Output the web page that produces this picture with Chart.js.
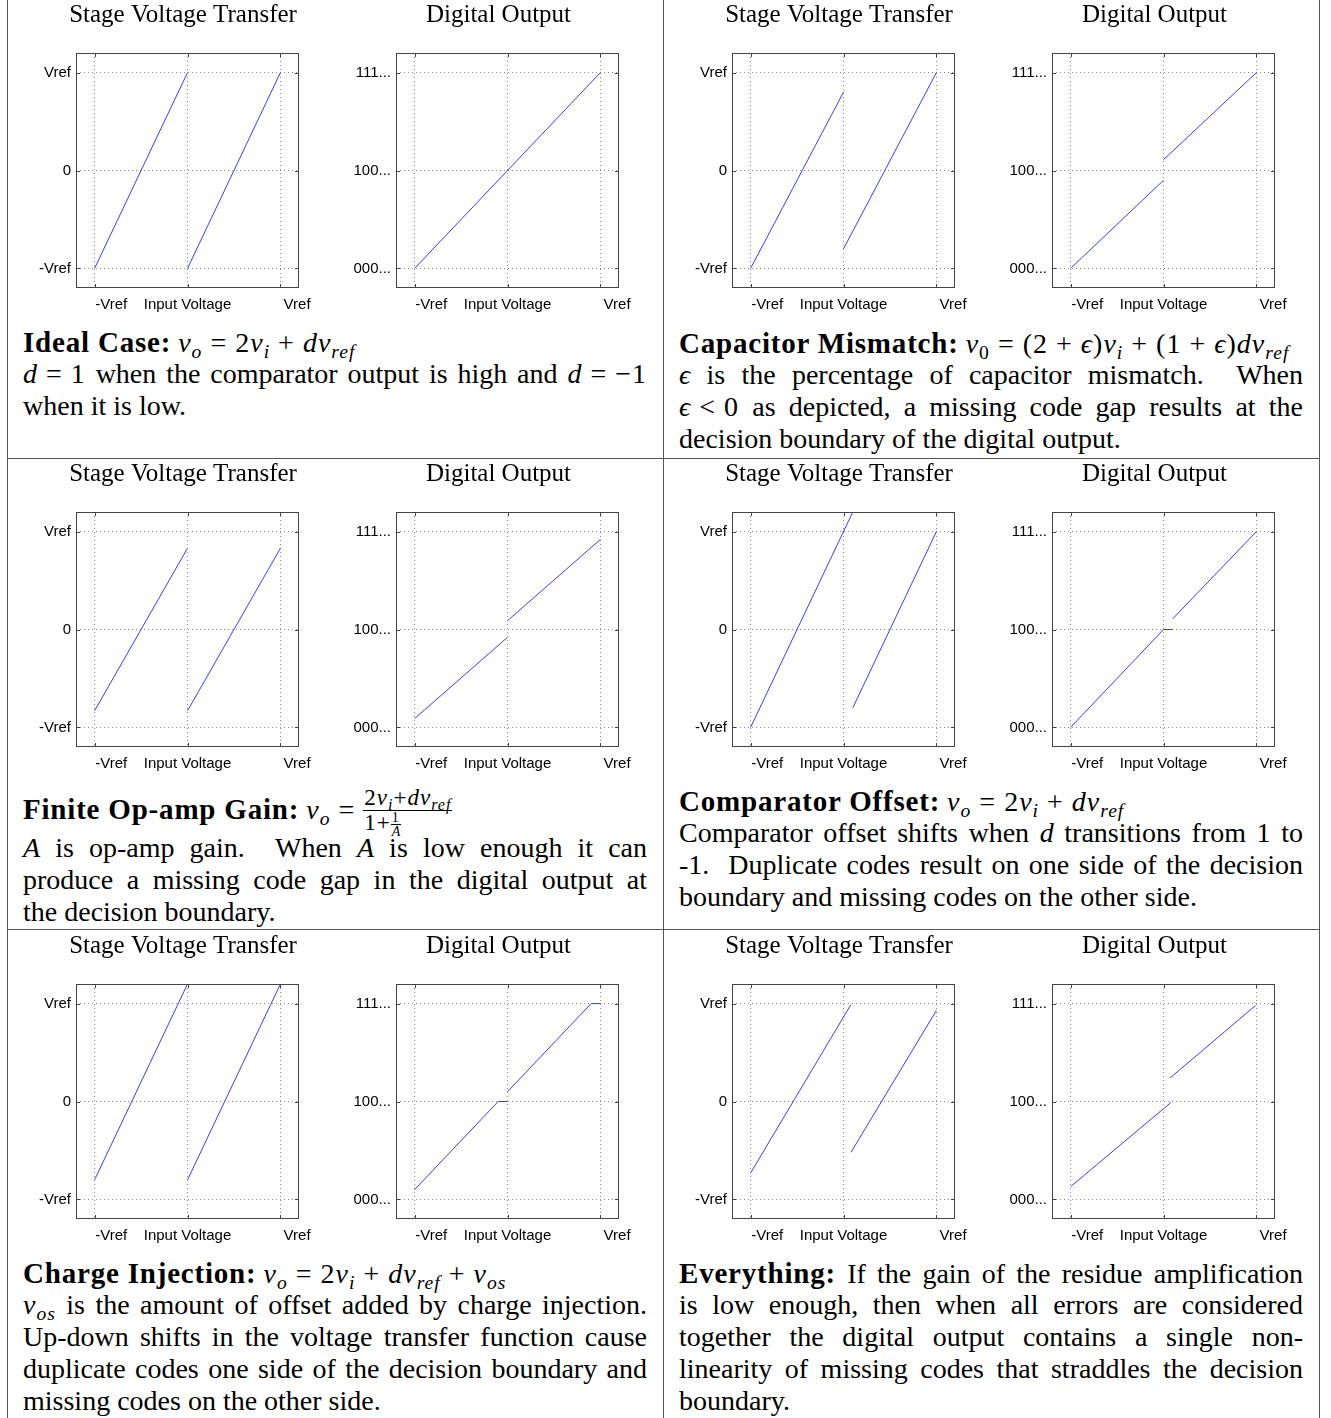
<!DOCTYPE html>
<html>
<head>
<meta charset="utf-8">
<script src="https://cdn.jsdelivr.net/npm/chart.js@4.4.1/dist/chart.umd.min.js"></script>
<style>
  html, body { margin: 0; padding: 0; background: #fff; }
  body { width: 1331px; height: 1418px; position: relative; overflow: hidden; }
  .rule { position: absolute; background: #555; }
  .cell { position: absolute; width: 656px; height: 470px; }
  .cell canvas { position: absolute; top: 0; }
  .txt { position: absolute; left: 16px; top: 0; width: 624px; font-family: "Liberation Serif", "DejaVu Serif", serif; font-size: 28px; color: #000; }
  .ln { position: absolute; left: 0; width: 624px; height: 32px; line-height: 32px; text-align: justify; text-align-last: justify; }
  .ln.end { text-align-last: left; white-space: nowrap; }
  b { font-size: 29px; letter-spacing: 0.8px; }
  .m { letter-spacing: 1px; }
  .op { margin: 0 8px; }
  sub { font-size: 70%; vertical-align: -0.3em; line-height: 0; }
  .frac { display: inline-block; vertical-align: middle; text-align: center; font-size: 23px; line-height: 1.05; }
  .frac > span { display: block; padding: 0 1px; }
  .frac > .num { border-bottom: 1px solid #000; }
  .frac .frac { font-size: 14px; line-height: 0.95; letter-spacing: 0; }
</style>
</head>
<body>
<script>
// tick positions and labels, shared by every plot
var tickValues = [-1, 0, 1];
var pad = '\u00a0\u00a0\u00a0\u00a0\u00a0\u00a0\u00a0\u00a0';
var inputTicks = [pad + '-Vref', 'Input Voltage', pad + 'Vref'];
var stageTicks = ['-Vref', '0', 'Vref'];
var codeTicks = ['000...', '100...', '111...'];
var chartTitles = ['Stage Voltage Transfer', 'Digital Output'];

// null y breaks the line
var idealStageX = [-1, 0, 0, 0, 1];
var idealStageY = [-1, 1, null, -1, 1];
var idealCodeX = [-1, 1];
var idealCodeY = [-1, 1];

var mismatchStageX = [-1, 0, 0, 0, 1];
var mismatchStageY = [-1, 0.8, null, -0.8, 1];
var mismatchCodeX = [-1, 0, 0, 0, 1];
var mismatchCodeY = [-1, -0.1, null, 0.11, 1];

var gainStageX = [-1, 0, 0, 0, 1];
var gainStageY = [-0.83, 0.83, null, -0.83, 0.83];
var gainCodeX = [-1, 0, 0, 0, 1];
var gainCodeY = [-0.91, -0.08, null, 0.09, 0.92];

var offsetStageX = [-1, 0.1, 0.1, 0.1, 1];
var offsetStageY = [-1, 1.2, null, -0.8, 1];
var offsetCodeX = [-1, 0, 0.1, 0.1, 0.1, 1];
var offsetCodeY = [-1, 0, 0, null, 0.11, 1];

var chargeStageX = [-1, 0, 0, 0, 1];
var chargeStageY = [-0.8, 1.2, null, -0.8, 1.2];
var chargeCodeX = [-1, -0.1, 0, 0, 0, 0.9, 1];
var chargeCodeY = [-0.9, 0, 0, null, 0.1, 1, 1];

var allStageX = [-1, 0.08, 0.08, 0.08, 1];
var allStageY = [-0.73, 0.99, null, -0.52, 0.93];
var allCodeX = [-1, 0.08, 0.08, 0.07, 0.99];
var allCodeY = [-0.87, -0.01, null, 0.24, 0.98];

function v(s) { return '<i>v</i><sub><i>' + s + '</i></sub>'; }
function op(s) { return '<span class="op">' + s + '</span>'; }
function m(s) { return '<span class="m">' + s + '</span>'; }
var dvref = '<i>d</i>' + v('ref');
var eps = '<i>\u03f5</i>';

var idealText = [
  { t: '<b>Ideal Case:</b> ' + m(v('o') + op('=') + '2' + v('i') + op('+') + dvref) },
  { t: m('<i>d</i>' + op('=') + '1') + ' when the comparator output is high and ' + m('<i>d</i>' + op('=') + '\u22121'), j: true },
  { t: 'when it is low.' }
];
var mismatchText = [
  { t: '<b>Capacitor Mismatch:</b> ' + m('<i>v</i><sub>0</sub>' + op('=') + '(2' + op('+') + eps + ')' + v('i') +
       op('+') + '(1' + op('+') + eps + ')' + dvref) },
  { t: eps + ' is the percentage of capacitor mismatch. &nbsp;When', j: true },
  { t: m(eps + op('&lt;') + '0') + ' as depicted, a missing code gap results at the', j: true },
  { t: 'decision boundary of the digital output.' }
];
var gainText = [
  { t: '<b>Finite Op-amp Gain:</b> ' + m(v('o') + op('=')) + '<span class="frac m"><span class="num">2' + v('i') + '+' + dvref +
       '</span><span class="den">1+<span class="frac"><span class="num">1</span><span class="den"><i>A</i></span></span></span></span>' },
  { t: '<i>A</i> is op-amp gain. &nbsp;When <i>A</i> is low enough it can', j: true },
  { t: 'produce a missing code gap in the digital output at', j: true },
  { t: 'the decision boundary.' }
];
var offsetText = [
  { t: '<b>Comparator Offset:</b> ' + m(v('o') + op('=') + '2' + v('i') + op('+') + dvref) },
  { t: 'Comparator offset shifts when <i>d</i> transitions from 1 to', j: true },
  { t: '-1. &nbsp;Duplicate codes result on one side of the decision', j: true },
  { t: 'boundary and missing codes on the other side.' }
];
var chargeText = [
  { t: '<b>Charge Injection:</b> ' + m(v('o') + op('=') + '2' + v('i') + op('+') + dvref + op('+') + v('os')) },
  { t: m(v('os')) + ' is the amount of offset added by charge injection.', j: true },
  { t: 'Up-down shifts in the voltage transfer function cause', j: true },
  { t: 'duplicate codes one side of the decision boundary and', j: true },
  { t: 'missing codes on the other side.' }
];
var allText = [
  { t: '<b>Everything:</b> If the gain of the residue amplification', j: true },
  { t: 'is low enough, then when all errors are considered', j: true },
  { t: 'together the digital output contains a single non-', j: true },
  { t: 'linearity of missing codes that straddles the decision', j: true },
  { t: 'boundary.' }
];

var panels = [
  { col: 0, row: 0, sx: idealStageX, sy: idealStageY, cx: idealCodeX, cy: idealCodeY, text: idealText },
  { col: 1, row: 0, sx: mismatchStageX, sy: mismatchStageY, cx: mismatchCodeX, cy: mismatchCodeY, text: mismatchText, first: 1, rest: 1 },
  { col: 0, row: 1, sx: gainStageX, sy: gainStageY, cx: gainCodeX, cy: gainCodeY, text: gainText, first: 1, rest: 15 },
  { col: 1, row: 1, sx: offsetStageX, sy: offsetStageY, cx: offsetCodeX, cy: offsetCodeY, text: offsetText },
  { col: 0, row: 2, sx: chargeStageX, sy: chargeStageY, cx: chargeCodeX, cy: chargeCodeY, text: chargeText },
  { col: 1, row: 2, sx: allStageX, sy: allStageY, cx: allCodeX, cy: allCodeY, text: allText }
];

var cellLeft = [7, 663];
var rowTop = [0, 459, 931];

Chart.defaults.font.family = '"Liberation Sans", Arial, sans-serif';
Chart.defaults.color = '#000';

// box round the plot with small inward ticks on every side
var framePlugin = {
  id: 'frame',
  afterDraw: function (chart) {
    var a = chart.chartArea, ctx = chart.ctx;
    var xs = chart.scales.x, ys = chart.scales.y;
    ctx.save();
    ctx.strokeStyle = '#444';
    ctx.lineWidth = 1;
    ctx.strokeRect(Math.round(a.left) + 0.5, Math.round(a.top) + 0.5,
      Math.round(a.right - a.left) - 1, Math.round(a.bottom - a.top) - 1);
    ctx.beginPath();
    tickValues.forEach(function (t) {
      var px = Math.round(xs.getPixelForValue(t)) + 0.5;
      ctx.moveTo(px, a.top); ctx.lineTo(px, a.top + 4);
      ctx.moveTo(px, a.bottom); ctx.lineTo(px, a.bottom - 4);
      var py = Math.round(ys.getPixelForValue(t)) + 0.5;
      ctx.moveTo(a.left, py); ctx.lineTo(a.left + 4, py);
      ctx.moveTo(a.right, py); ctx.lineTo(a.right - 4, py);
    });
    ctx.stroke();
    ctx.restore();
  }
};

function axis(labels, padding, extra) {
  var o = {
    type: 'linear', min: -1.2, max: 1.2,
    afterBuildTicks: function (s) {
      s.ticks = tickValues.map(function (t) { return { value: t }; });
    },
    ticks: {
      autoSkip: false, maxRotation: 0, font: { size: 15 }, padding: padding,
      callback: function (val, i) { return labels[i]; }
    },
    grid: { color: '#8a8a8a', drawTicks: false, lineWidth: 1 },
    border: { display: false, dash: [1, 3] }
  };
  for (var k in extra) o[k] = extra[k];
  return o;
}

function addChart(cell, left, width, yWidth, rWidth, title, yLabels, xs, ys) {
  var cv = document.createElement('canvas');
  cv.width = width;
  cv.height = 320;
  cv.style.left = left + 'px';
  cell.appendChild(cv);
  var pts = xs.map(function (x, i) { return { x: x, y: ys[i] }; });
  new Chart(cv.getContext('2d'), {
    type: 'line',
    data: { datasets: [{ data: pts, borderColor: '#3a3aff', borderWidth: 1, pointRadius: 0, fill: false, tension: 0 }] },
    plugins: [framePlugin],
    options: {
      responsive: false, animation: false, devicePixelRatio: 1,
      layout: { padding: 0 },
      plugins: {
        legend: { display: false }, tooltip: { enabled: false },
        title: {
          display: true, text: title, color: '#000',
          font: { family: '"Liberation Serif", serif', size: 25, weight: 'normal' },
          padding: { top: 0, bottom: 23 }
        }
      },
      scales: {
        x: axis(inputTicks, 8, { afterFit: function (s) { s.height = 32; } }),
        y: axis(yLabels, 5, { afterFit: function (s) { s.width = yWidth; } }),
        yr: {
          type: 'linear', position: 'right', display: true,
          grid: { display: false }, ticks: { display: false }, border: { display: false },
          afterFit: function (s) { s.width = rWidth; }
        }
      }
    }
  });
}

function rule(x, y, w, h) {
  var d = document.createElement('div');
  d.className = 'rule';
  d.style.left = x + 'px'; d.style.top = y + 'px';
  d.style.width = w + 'px'; d.style.height = h + 'px';
  document.body.appendChild(d);
}

rule(7, 0, 1, 1418);
rule(663, 0, 1, 1418);
rule(1319, 0, 1, 1418);
rule(7, 458, 1313, 1);
rule(7, 929, 1313, 1);

panels.forEach(function (p) {
  var cell = document.createElement('div');
  cell.className = 'cell';
  cell.style.left = cellLeft[p.col] + 'px';
  cell.style.top = rowTop[p.row] + 'px';
  document.body.appendChild(cell);

  addChart(cell, 20, 312, 49, 40, chartTitles[0], stageTicks, p.sx, p.sy);
  addChart(cell, 332, 319, 57, 39, chartTitles[1], codeTicks, p.cx, p.cy);

  var txt = document.createElement('div');
  txt.className = 'txt';
  cell.appendChild(txt);
  p.text.forEach(function (l, k) {
    var d = document.createElement('div');
    d.className = 'ln' + (l.j ? '' : ' end');
    var c = 342 + k * 32 + (k === 0 ? (p.first || 0) : (p.rest || 0));
    d.style.top = (c - 16) + 'px';
    d.innerHTML = l.t;
    txt.appendChild(d);
  });
});
</script>
</body>
</html>
